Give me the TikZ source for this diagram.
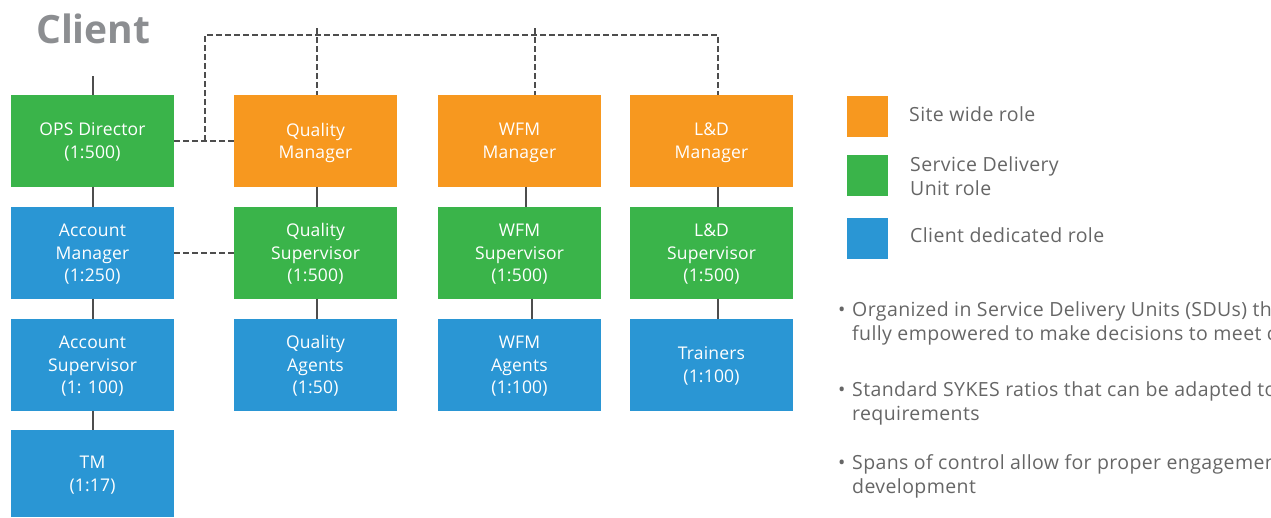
\documentclass[tikz,border=0pt]{standalone}
\usepackage{fontspec}
\setmainfont{Open Sans}
\newfontfamily\notefont[LetterSpace=2]{Open Sans}
\newfontfamily\boxfont[LetterSpace=1]{Open Sans}
\usetikzlibrary{calc}
\definecolor{siteorange}{HTML}{F7981F}
\definecolor{sdugreen}{HTML}{3AB44A}
\definecolor{clientblue}{HTML}{2A96D4}
\definecolor{linegray}{HTML}{4D4D4D}
\definecolor{textgray}{HTML}{666666}
\definecolor{titlegray}{HTML}{8C8E91}
\tikzset{
  role/.style={rectangle, anchor=north west, inner sep=0pt, outer sep=0pt,
    minimum width=163pt, minimum height=91.5pt, text=white, align=center,
    text depth=0pt, font=\boxfont\fontsize{17.5}{22.5}\selectfont},
  site/.style={role, fill=siteorange},
  sdu/.style={role, fill=sdugreen},
  dedicated/.style={role, fill=clientblue},
  solidlink/.style={draw=linegray, line width=1.6pt},
  dashlink/.style={draw=linegray, line width=1.5pt, dash pattern=on 5.5pt off 3.5pt},
  keybox/.style={rectangle, anchor=north west, inner sep=0pt, minimum width=41pt, minimum height=41pt},
  keytext/.style={anchor=west, inner sep=0pt, text=textgray, align=left,
    font=\notefont\fontsize{19.5}{24}\selectfont},
  bullettext/.style={anchor=base west, inner sep=0pt, text=textgray,
    font=\notefont\fontsize{19.5}{23.5}\selectfont},
}
\begin{document}
\begin{tikzpicture}[x=1pt, y=-1pt]
\useasboundingbox (0,0) rectangle (1271,517);
\clip (0,0) rectangle (1271,517);

% title
\node[anchor=base west, inner sep=0pt, text=titlegray, font=\fontsize{39}{40}\selectfont\bfseries] (title) at (36,43.3) {Client};

% client column
\node[sdu] (ops) at (11,95) {OPS Director\\(1:500)};
\node[dedicated] (am) at (11,207) {Account\\Manager\\(1:250)};
\node[dedicated] (as) at (11,319) {Account\\Supervisor\\(1: 100)};
\node[dedicated, minimum height=87pt] (tm) at (11,430) {TM\\(1:17)};

% quality column
\node[site] (qm) at (234,95) {Quality\\Manager};
\node[sdu] (qs) at (234,207) {Quality\\Supervisor\\(1:500)};
\node[dedicated] (qa) at (234,319) {Quality\\Agents\\(1:50)};

% WFM column
\node[site] (wm) at (438,95) {WFM\\Manager};
\node[sdu] (ws) at (438,207) {WFM\\Supervisor\\(1:500)};
\node[dedicated] (wa) at (438,319) {WFM\\Agents\\(1:100)};

% L&D column
\node[site] (lm) at (630,95) {L\&D\\Manager};
\node[sdu] (ls) at (630,207) {L\&D\\Supervisor\\(1:500)};
\node[dedicated] (lt) at (630,319) {Trainers\\(1:100)};

% reporting lines
\coordinate (top) at (93,76);
\draw[solidlink] (top) -- (top |- ops.north);
\draw[solidlink] ([xshift=0.5pt]ops.south) -- ([xshift=0.5pt]am.north);
\draw[solidlink] ([xshift=0.5pt]am.south) -- ([xshift=0.5pt]as.north);
\draw[solidlink] ([xshift=0.5pt]as.south) -- ([xshift=0.5pt]tm.north);
\draw[solidlink] ([xshift=1.5pt]qm.south) -- ([xshift=1.5pt]qs.north);
\draw[solidlink] ([xshift=1.5pt]qs.south) -- ([xshift=1.5pt]qa.north);
\draw[solidlink] ([xshift=6.5pt]wm.south) -- ([xshift=6.5pt]ws.north);
\draw[solidlink] ([xshift=12.5pt]ws.south) -- ([xshift=12.5pt]wa.north);
\draw[solidlink] ([xshift=6.5pt]lm.south) -- ([xshift=6.5pt]ls.north);
\draw[solidlink] ([xshift=6.5pt]ls.south) -- ([xshift=6.5pt]lt.north);

% dotted-line relationships
\coordinate (busW) at (205,35);
\coordinate (busE) at (718,35);
\coordinate (dq) at (317,35);
\coordinate (dw) at (535,35);
\draw[dashlink] (ops.east) -- (qm.west);
\draw[dashlink] (busW |- ops.east) -- (busW) -- (busE) -- (busE |- lm.north);
\draw[dashlink] ([yshift=7pt]dq) -- (dq |- qm.north);
\draw[dashlink] ([yshift=7pt]dw) -- (dw |- wm.north);
\draw[dashlink] (am.east) -- (qs.west);

% legend
\node[keybox, fill=siteorange] (k1) at (847,96) {};
\node[keybox, fill=sdugreen] (k2) at (847,155) {};
\node[keybox, fill=clientblue] (k3) at (847,218) {};
\node[keytext] (k1t) at (909,114) {Site wide role};
\node[keytext] (k2t) at (910,176) {Service Delivery\\Unit role};
\node[keytext] (k3t) at (910,235.5) {Client dedicated role};

% notes
\node[bullettext] (b1) at (838,316) {\textbullet};
\node[bullettext] (b1a) at (852,316) {Organized in Service Delivery Units (SDUs) that are};
\node[bullettext] (b1b) at (852,340) {fully empowered to make decisions to meet client};
\node[bullettext] (b2) at (838,396.5) {\textbullet};
\node[bullettext] (b2a) at (852,396.5) {Standard SYKES ratios that can be adapted to client};
\node[bullettext] (b2b) at (852,420) {requirements};
\node[bullettext] (b3) at (838,469.5) {\textbullet};
\node[bullettext] (b3a) at (852,469.5) {Spans of control allow for proper engagement and};
\node[bullettext] (b3b) at (852,493) {development};
\end{tikzpicture}
\end{document}
